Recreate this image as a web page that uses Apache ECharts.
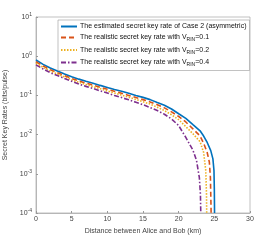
<!DOCTYPE html>
<html><head><meta charset="utf-8">
<script src="https://cdn.jsdelivr.net/npm/echarts@6/dist/echarts.min.js"></script>
<style>html,body{margin:0;padding:0;background:#fff}#c{width:277px;height:240px}</style>
</head><body><div id="c"></div>
<script>
var baseDist = [0,1,2,3,4,5,6,7,8,9,10,11,12,13,14,15,16,17,18,19,20,21,22];
var blueDist = baseDist.concat([23,23.5,24,24.5,24.8,24.95,25.0,25.03]);
var blueVals = [0.80,0.62,0.50,0.42,0.35,0.30,0.26,0.23,0.205,0.18,0.16,0.142,0.127,0.113,0.10,0.089,0.078,0.066,0.056,0.045,0.034,0.026,0.018,
  0.0125,0.0092,0.0063,0.0039,0.0024,0.0012,0.0004,0.0001];
var orangeDist = baseDist.concat([23,23.5,24,24.3,24.45,24.52,24.55]);
var orangeVals = [0.72,0.56,0.45,0.38,0.32,0.27,0.235,0.205,0.183,0.16,0.143,0.127,0.113,0.10,0.088,0.078,0.068,0.058,0.048,0.038,0.029,0.021,0.014,
  0.0092,0.006,0.0035,0.002,0.0008,0.0002,0.0001];
var yellowDist = baseDist.concat([23,23.5,23.8,23.9,23.93]);
var yellowVals = [0.66,0.52,0.42,0.35,0.295,0.25,0.215,0.19,0.168,0.148,0.13,0.115,0.102,0.09,0.079,0.069,0.06,0.05,0.041,0.032,0.024,0.016,0.0105,
  0.0066,0.0035,0.0012,0.0003,0.0001];
var purpleDist = [0,1,2,3,4,5,6,7,8,9,10,11,12,13,14,15,16,17,18,19,20,21,22,22.5,22.9,23.05,23.1];
var purpleVals = [0.60,0.47,0.38,0.32,0.27,0.23,0.195,0.17,0.15,0.13,0.115,0.10,0.088,0.077,0.067,0.058,0.049,0.041,0.033,0.025,0.017,0.0085,0.004,0.0022,0.0008,0.0003,0.0001];
var seriesNames = ['The estimated secret key rate of Case 2 (asymmetric)',
  'The realistic secret key rate with V{sub|RIN}=0.1',
  'The realistic secret key rate with V{sub|RIN}=0.2',
  'The realistic secret key rate with V{sub|RIN}=0.4'];
var xTicks = [0,5,10,15,20,25,30];
var yExp = [-4,-3,-2,-1,0,1];

function pairs(xs, ys){ return xs.map(function(x,i){ return [x, ys[i]]; }); }

var chart = echarts.init(document.getElementById('c'));
var txt = '#444';
var ff = 'Liberation Sans, Arial';
chart.setOption({
  animation:false,
  grid:{left:36,right:27,top:17,bottom:27,show:true,borderColor:'#999',borderWidth:0.6,backgroundColor:'#fff',
    containLabel:false, outerBoundsMode:'none'},
  legend:{
    show:true, orient:'vertical', left:58, top:20, itemWidth:16, itemHeight:7, itemGap:4,
    padding:[3,3,3,2], backgroundColor:'#fff', borderColor:'#999', borderWidth:0.6,
    itemStyle:{color:'transparent',borderColor:'transparent',borderWidth:0,opacity:0},
    textStyle:{fontSize:7,color:'#111',fontFamily:ff,padding:[0,0,0,-2],
      rich:{sub:{fontSize:5,padding:[5,0,0,0],color:'#111',fontFamily:ff}}},
    data: seriesNames.map(function(n){return {name:n};})
  },
  xAxis:{
    type:'value', min:0, max:30, interval:5,
    name:'Distance between Alice and Bob (km)', nameLocation:'middle', nameGap:11,
    nameTextStyle:{fontSize:7,color:txt,fontFamily:ff},
    axisLine:{lineStyle:{color:'#999',width:0.6}},
    axisTick:{inside:true,length:2,lineStyle:{color:'#999'}},
    axisLabel:{fontSize:7,color:txt,margin:3,fontFamily:ff},
    splitLine:{show:false}
  },
  yAxis:{
    type:'log', logBase:10, min:1e-4, max:10,
    name:'Secret Key Rates (bits/pulse)', nameLocation:'middle', nameGap:22,
    nameTextStyle:{fontSize:7,color:txt,fontFamily:ff},
    axisLine:{lineStyle:{color:'#999',width:0.6}},
    axisTick:{inside:true,length:2,lineStyle:{color:'#999'}},
    axisLabel:{fontSize:7,color:txt,margin:4,fontFamily:ff,
      formatter:function(v){ var e=Math.round(Math.log10(v)); return '10{sup|'+e+'}'; },
      rich:{sup:{fontSize:5,color:txt,padding:[0,0,5,0],fontFamily:ff}}},
    splitLine:{show:false}
  },
  series:[
    {name:seriesNames[0],type:'line',showSymbol:false,symbol:'none',data:pairs(blueDist,blueVals),
      lineStyle:{color:'#0072BD',width:1.6,type:'solid'},itemStyle:{color:'#0072BD'},z:2},
    {name:seriesNames[1],type:'line',showSymbol:false,symbol:'none',data:pairs(orangeDist,orangeVals),
      lineStyle:{color:'#D95319',width:1.6,type:[5,3]},itemStyle:{color:'#D95319'},z:3},
    {name:seriesNames[2],type:'line',showSymbol:false,symbol:'none',data:pairs(yellowDist,yellowVals),
      lineStyle:{color:'#EDB120',width:1.6,type:[1.5,1.5]},itemStyle:{color:'#EDB120'},z:4},
    {name:seriesNames[3],type:'line',showSymbol:false,symbol:'none',data:pairs(purpleDist,purpleVals),
      lineStyle:{color:'#7E2F8E',width:1.6,type:[5,2,1.5,2]},itemStyle:{color:'#7E2F8E'},z:5}
  ]
});
</script></body></html>
